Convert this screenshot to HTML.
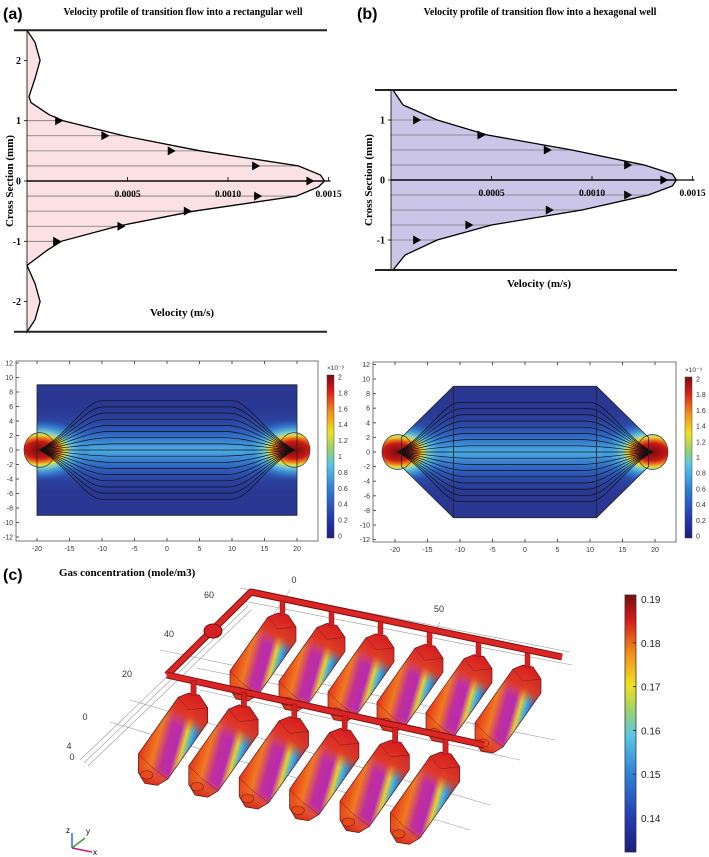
<!DOCTYPE html>
<html><head><meta charset="utf-8">
<style>
html,body{margin:0;padding:0;background:#fff;}
body{width:709px;height:857px;overflow:hidden;position:relative;font-family:"Liberation Serif",serif;}
svg{position:absolute;left:0;top:0;}
</style></head>
<body>
<svg id="fig" width="709" height="857" viewBox="0 0 709 857">
<defs>
<linearGradient id="jet" x1="0" y1="1" x2="0" y2="0">
<stop offset="0" stop-color="#1a1f7a"/><stop offset="0.12" stop-color="#2438b0"/><stop offset="0.3" stop-color="#2f7fd6"/><stop offset="0.45" stop-color="#56c6e8"/><stop offset="0.55" stop-color="#9bd36a"/><stop offset="0.65" stop-color="#f0e020"/><stop offset="0.78" stop-color="#f08a18"/><stop offset="0.9" stop-color="#d81c1c"/><stop offset="1" stop-color="#7a0c0c"/>
</linearGradient>
<radialGradient id="hot" cx="0.5" cy="0.5" r="0.5">
<stop offset="0" stop-color="#7a0c0c"/><stop offset="0.28" stop-color="#c81818"/><stop offset="0.4" stop-color="#f07a18"/><stop offset="0.48" stop-color="#e8d830"/><stop offset="0.58" stop-color="#7fd0d0"/><stop offset="0.78" stop-color="#3fa0e0" stop-opacity="0.6"/><stop offset="1" stop-color="#2f6fd0" stop-opacity="0"/>
</radialGradient>
<linearGradient id="band" x1="0" y1="0" x2="0" y2="1">
<stop offset="0" stop-color="#2b3a9a" stop-opacity="0"/><stop offset="0.3" stop-color="#2f6cc8" stop-opacity="0.8"/><stop offset="0.5" stop-color="#4cb0e6"/><stop offset="0.7" stop-color="#2f6cc8" stop-opacity="0.8"/><stop offset="1" stop-color="#2b3a9a" stop-opacity="0"/>
</linearGradient>
<linearGradient id="boxAcross" gradientUnits="userSpaceOnUse" x1="-44" y1="40" x2="6" y2="54">
<stop offset="0" stop-color="#e8401a"/><stop offset="0.22" stop-color="#f07a20"/><stop offset="0.4" stop-color="#c0309a"/><stop offset="0.58" stop-color="#b82ab0"/><stop offset="0.7" stop-color="#e8d030"/><stop offset="0.8" stop-color="#40b0e0"/><stop offset="1" stop-color="#2030a0"/>
</linearGradient>
<linearGradient id="boxAlong" gradientUnits="userSpaceOnUse" x1="2" y1="4" x2="-44" y2="86">
<stop offset="0" stop-color="#d82020"/><stop offset="0.2" stop-color="#e03820" stop-opacity="0.95"/><stop offset="0.34" stop-color="#e86020" stop-opacity="0"/><stop offset="0.8" stop-color="#e86020" stop-opacity="0"/><stop offset="0.9" stop-color="#e85020" stop-opacity="0.9"/><stop offset="1" stop-color="#d82a1a"/>
</linearGradient>
</defs>

<text x="3" y="19" font-family="Liberation Sans, sans-serif" font-weight="bold" font-size="16">(a)</text>
<text x="183" y="15" text-anchor="middle" font-weight="bold" font-size="10">Velocity profile of transition flow into a rectangular well</text>
<text x="357" y="19" font-family="Liberation Sans, sans-serif" font-weight="bold" font-size="16">(b)</text>
<text x="540" y="15" text-anchor="middle" font-weight="bold" font-size="10">Velocity profile of transition flow into a hexagonal well</text>
<g id="pa"></g>
<g id="pb"></g>
<g id="ha"></g>
<g id="hb"></g>
<text x="3" y="580" font-family="Liberation Sans, sans-serif" font-weight="bold" font-size="16">(c)</text>
<text x="59" y="576" font-weight="bold" font-size="11">Gas concentration (mole/m3)</text>
<g id="pc"></g>
</svg>
<script>
const ysA = [2.5,2.3,2.0,1.7,1.4,1.3,1.1,1.0,0.75,0.5,0.25,0.1,0,-0.1,-0.25,-0.5,-0.75,-1,-1.15,-1.4,-1.7,-2,-2.3,-2.5];
const vA  = [0,0.00004,0.000065,0.00004,0.00001,0.00002,0.00011,0.00018,0.00048,0.00086,0.00135,0.00146,0.00148,0.00145,0.00134,0.00083,0.00045,0.00017,0.0001,0,0.00004,0.000065,0.00004,0];
const arrowYs = [1,0.75,0.5,0.25,0,-0.25,-0.5,-0.75,-1];
const arrowVA = [0.00018,0.00041,0.00074,0.00116,0.00143,0.00117,0.00082,0.00049,0.00017];
const ysB = [1.5,1.25,1.0,0.75,0.5,0.25,0.1,0,-0.1,-0.25,-0.5,-0.75,-1,-1.25,-1.5];
const vB  = [0.00001,0.00006,0.00023,0.00048,0.0009,0.00126,0.0014,0.00142,0.0014,0.00128,0.00095,0.0005,0.00023,0.00007,0.00001];
const arrowVB = [0.00015,0.00047,0.0008,0.0012,0.00138,0.0012,0.00081,0.00041,0.00015];
const velTicks = [0.0005,0.0010,0.0015];
const velTickLabels = ["0.0005","0.0010","0.0015"];
const yTicksA = [2,1,0,-1,-2];
const yTicksB = [1,0,-1];
const cbTicks = [0,0.2,0.4,0.6,0.8,1,1.2,1.4,1.6,1.8,2];
const hxTicks = [-20,-15,-10,-5,0,5,10,15,20];
const hyTicks = [12,10,8,6,4,2,0,-2,-4,-6,-8,-10,-12];
const gasTicks = [0.14,0.15,0.16,0.17,0.18,0.19];

const NS="http://www.w3.org/2000/svg";
function mk(p,tag,attrs,txt){const e=document.createElementNS(NS,tag);for(const k in attrs)e.setAttribute(k,attrs[k]);if(txt!==undefined)e.textContent=txt;p.appendChild(e);return e;}

function profile(g,cfg){
  const X=v=>cfg.x0+v*cfg.sx, Y=y=>cfg.y0-y*cfg.sy;
  let d="M"+X(0)+","+Y(cfg.ys[0]);
  cfg.ys.forEach((y,i)=>{d+=" L"+X(cfg.vs[i]).toFixed(1)+","+Y(y).toFixed(1);});
  d+=" L"+X(0)+","+Y(cfg.ys[cfg.ys.length-1])+"Z";
  const area=mk(g,"path",{d:d,fill:cfg.fill,stroke:"none"});
  
  
  arrowYs.forEach((y,i)=>{
    let vEdge=0;
    for(let k=0;k<cfg.ys.length-1;k++){const a=cfg.ys[k],b=cfg.ys[k+1];if((y<=a&&y>=b)){const t=(a-y)/(a-b||1);vEdge=cfg.vs[k]+t*(cfg.vs[k+1]-cfg.vs[k]);break;}}
    const ln=mk(g,"line",{x1:X(0),y1:Y(y),x2:X(vEdge),y2:Y(y),stroke:y===0?"#000":"#777","stroke-width":y===0?1.2:0.8});
    
    
    const ax=X(cfg.av[i]),ay=Y(y);
    const ah=mk(g,"path",{d:`M${ax-8},${ay-4.5} L${ax},${ay} L${ax-8},${ay+4.5}Z`,fill:"#000"});
    
    
  });
  const pl=mk(g,"path",{d:d.replace(/Z$/,""),fill:"none",stroke:"#000","stroke-width":1.3});
  
  
  mk(g,"line",{x1:X(0),y1:Y(0),x2:X(0.0015)+2,y2:Y(0),stroke:"#000","stroke-width":1.2});
  const ya=mk(g,"line",{x1:X(0),y1:Y(cfg.ys[0]),x2:X(0),y2:Y(cfg.ys[cfg.ys.length-1]),stroke:"#000","stroke-width":0.8});
  
  
  [cfg.ys[0],cfg.ys[cfg.ys.length-1]].forEach(w=>{
    const wl=mk(g,"line",{x1:cfg.wx1,y1:Y(w),x2:cfg.wx2,y2:Y(w),stroke:"#222","stroke-width":2});
    
    
  });
  velTicks.forEach((v,i)=>{
    mk(g,"line",{x1:X(v),y1:Y(0),x2:X(v),y2:Y(0)-4,stroke:"#000","stroke-width":0.8});
    const t=mk(g,"text",{x:X(v),y:Y(0)+16,"text-anchor":"middle","font-size":9.5,"font-weight":"bold"},velTickLabels[i]);
    
    
  });
  cfg.yt.forEach(y=>{
    mk(g,"line",{x1:X(0)-3,y1:Y(y),x2:X(0),y2:Y(y),stroke:"#000","stroke-width":0.8});
    const t=mk(g,"text",{x:X(0)-6,y:Y(y)+3.5,"text-anchor":"end","font-size":10,"font-weight":"bold"},String(y));
    
    
  });
  const yt=mk(g,"text",{x:0,y:0,transform:`translate(${cfg.ytx},${Y(0)}) rotate(-90)`,"text-anchor":"middle","font-size":11,"font-weight":"bold"},"Cross Section (mm)");
  
  
  const xt=mk(g,"text",{x:cfg.xtx,y:cfg.xty,"text-anchor":"middle","font-size":11,"font-weight":"bold"},"Velocity (m/s)");
  
  
}
profile(document.getElementById("pa"),{x0:27,sx:201000,y0:181,sy:60.3,ys:ysA,vs:vA,av:arrowVA,fill:"#fbe1e3",wx1:14,wx2:327,yt:yTicksA,ytx:13,xtx:182,xty:316});
profile(document.getElementById("pb"),{x0:391,sx:201000,y0:180,sy:60,ys:ysB,vs:vB,av:arrowVB,fill:"#cbc6e8",wx1:375,wx2:677,yt:yTicksB,ytx:372,xtx:539,xty:287});

function heat(g,c){
  const X=x=>c.x0+x*c.sx, Y=y=>c.y0-y*c.sy;
  const fr=mk(g,"rect",{x:c.fx1,y:c.fy1,width:c.fx2-c.fx1,height:c.fy2-c.fy1,fill:"#fff",stroke:"#555","stroke-width":0.8});
  
  
  const id="clip"+c.id;
  const cp=mk(document.querySelector("defs"),"clipPath",{id:id});
  let dom=c.shape.map((p,i)=>(i?"L":"M")+X(p[0]).toFixed(1)+","+Y(p[1]).toFixed(1)).join(" ")+"Z";
  mk(cp,"path",{d:dom});
  mk(cp,"ellipse",{cx:X(-19.6),cy:Y(0),rx:2.4*c.sx,ry:2.4*c.sy});
  mk(cp,"ellipse",{cx:X(19.6),cy:Y(0),rx:2.4*c.sx,ry:2.4*c.sy});
  const cg=mk(g,"g",{"clip-path":`url(#${id})`});
  mk(cg,"rect",{x:X(-23),y:Y(10),width:46*c.sx,height:20*c.sy,fill:"#2a3894"});
  mk(cg,"rect",{x:X(-23),y:Y(6),width:46*c.sx,height:12*c.sy,fill:"url(#band)"});
  [-19.6,19.6].forEach(x=>{
    mk(cg,"ellipse",{cx:X(x),cy:Y(0),rx:8*c.sx,ry:4.2*c.sy,fill:"url(#hot)"});
  });
  for(let k=-8;k<=8;k++){
    if(k===0){mk(cg,"line",{x1:X(-19.6),y1:Y(0),x2:X(19.6),y2:Y(0),stroke:"#111","stroke-width":0.7});continue;}
    const yk=k*0.85;
    const px=8+Math.abs(k)*0.25;
    const d=`M${X(-19.6)},${Y(0)} C${X(-15)},${Y(yk*0.35)} ${X(-12.5)},${Y(yk)} ${X(-px)},${Y(yk)} L${X(px)},${Y(yk)} C${X(12.5)},${Y(yk)} ${X(15)},${Y(yk*0.35)} ${X(19.6)},${Y(0)}`;
    const s=mk(cg,"path",{d:d,fill:"none",stroke:"#111","stroke-width":0.7});
    
    
  }
  mk(g,"path",{d:dom,fill:"none",stroke:"#222","stroke-width":0.8});
  (c.inner||[]).forEach(x=>mk(g,"line",{x1:X(x),y1:Y(9),x2:X(x),y2:Y(-9),stroke:"#222","stroke-width":0.8}));
  [-19.6,19.6].forEach(x=>mk(g,"ellipse",{cx:X(x),cy:Y(0),rx:2.4*c.sx,ry:2.4*c.sy,fill:"none",stroke:"#333","stroke-width":0.7}));
  hxTicks.forEach(t=>{
    mk(g,"line",{x1:X(t),y1:c.fy2,x2:X(t),y2:c.fy2-3,stroke:"#555"});
    mk(g,"line",{x1:X(t),y1:c.fy1,x2:X(t),y2:c.fy1+3,stroke:"#555"});
    const tl=mk(g,"text",{x:X(t),y:c.fy2+10,"text-anchor":"middle","font-size":7,"font-family":"Liberation Sans, sans-serif",fill:"#333"},String(t));
    
    
  });
  hyTicks.forEach(t=>{
    mk(g,"line",{x1:c.fx1,y1:Y(t),x2:c.fx1+3,y2:Y(t),stroke:"#555"});
    const tl=mk(g,"text",{x:c.fx1-3,y:Y(t)+2.5,"text-anchor":"end","font-size":7,"font-family":"Liberation Sans, sans-serif",fill:"#333"},String(t));
    
    
  });
  const cb=mk(g,"rect",{x:c.cbx,y:c.cby1,width:7,height:c.cby2-c.cby1,fill:"url(#jet)",stroke:"#444","stroke-width":0.5});
  
  
  cbTicks.forEach(t=>{
    const yy=c.cby2-(t/2)*(c.cby2-c.cby1-4)-2;
    mk(g,"text",{x:c.cbx+11,y:yy+2.5,"font-size":7,"font-family":"Liberation Sans, sans-serif",fill:"#333"},String(t));
  });
  mk(g,"text",{x:c.cbx,y:c.cby1-5,"font-size":6.5,"font-family":"Liberation Sans, sans-serif",fill:"#333"},"×10⁻⁹");
}
heat(document.getElementById("ha"),{id:"a",x0:167,sx:6.5,y0:450,sy:7.25,fx1:16,fx2:318,fy1:361,fy2:541,cbx:327,cby1:375,cby2:538,
  shape:[[-20,9],[20,9],[20,-9],[-20,-9]]});
heat(document.getElementById("hb"),{id:"b",x0:525,sx:6.5,y0:452,sy:7.3,fx1:373,fx2:676,fy1:362,fy2:542,cbx:685,cby1:377,cby2:538,
  shape:[[-19,2],[-11,9],[11,9],[19,2],[19,-2],[11,-9],[-11,-9],[-19,-2]],inner:[-11,11]});

(function(){
  const g=document.getElementById("pc");
  const gl=[[ [240,588],[570,652] ],[ [238,600],[572,665] ],[ [196,668],[555,740] ],[ [200,690],[520,760] ],[ [110,722],[470,830] ],[ [130,700],[490,805] ],[ [160,650],[470,715] ],
            [ [80,760],[245,602] ],[ [84,763],[248,606] ],[ [88,766],[251,610] ],[ [290,590],[270,620] ],[ [440,622],[432,638] ]];
  gl.forEach(l=>{const e=mk(g,"line",{x1:l[0][0],y1:l[0][1],x2:l[1][0],y2:l[1][1],stroke:"#999","stroke-width":0.6});
    });
  function box(tx,ty,s){
    const bg=mk(g,"g",{transform:`translate(${tx},${ty}) scale(${s})`});
    
    
    const pts="-4,0 6,2 14,14 14,28 -24,82 -34,88 -46,86 -52,76 -52,58 -14,4";
    mk(bg,"polygon",{points:pts,fill:"url(#boxAcross)"});
    mk(bg,"polygon",{points:pts,fill:"url(#boxAlong)",stroke:"#5a1a1a","stroke-width":0.7});
    mk(bg,"polyline",{points:"-14,4 -4,16 14,14",fill:"none",stroke:"#5a1a1a","stroke-width":0.4});
    mk(bg,"polyline",{points:"-52,58 -40,70 -24,82",fill:"none",stroke:"#5a1a1a","stroke-width":0.4});
    mk(bg,"ellipse",{cx:-44,cy:78,rx:6,ry:4,fill:"#e84a1a",stroke:"#5a1a1a","stroke-width":0.5});
    mk(bg,"rect",{x:-2,y:-12,width:5,height:14,fill:"#d42020",stroke:"#7a1010","stroke-width":0.4});
  }
  function pipe(pts){
    const p=pts.map(q=>q.join(",")).join(" ");
    mk(g,"polyline",{points:p,fill:"none",stroke:"#7a1010","stroke-width":7,"stroke-linejoin":"round"});
    const e=mk(g,"polyline",{points:p,fill:"none",stroke:"#dc2626","stroke-width":5,"stroke-linejoin":"round"});
    
  }
  pipe([[562,657],[251,592],[167,675]]);
  mk(g,"ellipse",{cx:213,cy:631,rx:9,ry:7,fill:"#d42020",stroke:"#7a1010"});
  for(let i=0;i<6;i++) box(282+i*49,613+i*10.4,1);
  pipe([[167,675],[484,745]]);
  for(let i=0;i<6;i++) box(193+i*50.4,693+i*11.8,1.05);
  [["0",294,583],["50",439,612],["60",209,598],["40",169,637],["20",127,677],["0",85,720],["4",69,749],["0",72,760]].forEach(a=>{
    const t=mk(g,"text",{x:a[1],y:a[2],"text-anchor":"middle","font-size":9,"font-family":"Liberation Sans, sans-serif",fill:"#333"},a[0]);
    
  });
  mk(g,"line",{x1:72,y1:848,x2:72,y2:833,stroke:"#2a6fd0","stroke-width":1.5});
  mk(g,"line",{x1:72,y1:848,x2:85,y2:838,stroke:"#3aa03a","stroke-width":1.5});
  mk(g,"line",{x1:72,y1:848,x2:92,y2:852,stroke:"#c0207a","stroke-width":1.5});
  mk(g,"text",{x:66,y:833,"font-size":8,"font-family":"Liberation Sans, sans-serif"},"z");
  mk(g,"text",{x:86,y:834,"font-size":8,"font-family":"Liberation Sans, sans-serif"},"y");
  mk(g,"text",{x:93,y:855,"font-size":8,"font-family":"Liberation Sans, sans-serif"},"x");
  const cb=mk(g,"rect",{x:625,y:595,width:11,height:257,fill:"url(#jet)",stroke:"#333","stroke-width":0.8});
  
  gasTicks.forEach(t=>{
    const yy=818-(t-0.14)/0.05*(818-599);
    mk(g,"line",{x1:636,y1:yy,x2:633,y2:yy,stroke:"#333"});
    const tl=mk(g,"text",{x:641,y:yy+4,"font-size":10,"font-family":"Liberation Sans, sans-serif",fill:"#222"},t.toFixed(2));
    
  });
})();
</script>
</body></html>
